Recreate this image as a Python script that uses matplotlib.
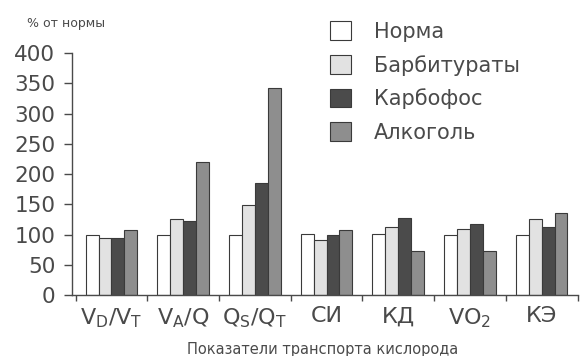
import numpy as np
import matplotlib
matplotlib.use("Agg")
import matplotlib.pyplot as plt

plt.rcParams["font.family"] = ["DejaVu Sans"]

categories = [
    r"V$_\mathregular{D}$/V$_\mathregular{T}$",
    r"V$_\mathregular{A}$/Q",
    r"Q$_\mathregular{S}$/Q$_\mathregular{T}$",
    "СИ",
    "КД",
    r"VO$_\mathregular{2}$",
    "КЭ",
]
series_names = ["Норма", "Барбитураты", "Карбофос", "Алкоголь"]
norma = [100, 100, 100, 101, 101, 100, 100]
barbiturates = [94, 125, 149, 91, 113, 109, 126]
karbofos = [95, 122, 186, 99, 127, 117, 112]
alcohol = [107, 220, 343, 108, 73, 73, 135]

colors = ["#ffffff", "#e2e2e2", "#4b4b4b", "#8e8e8e"]
text_color = "#4a4a4a"

fig = plt.figure(figsize=(5.81, 3.56), dpi=100)
ax = fig.add_axes([0.124, 0.171, 0.87, 0.68])

x = np.arange(len(categories)) + 0.5
w = 0.18
for i, (vals, c, name) in enumerate(zip([norma, barbiturates, karbofos, alcohol], colors, series_names)):
    ax.bar(x + (i - 1.5) * w, vals, width=w, color=c, edgecolor="#3a3a3a",
           linewidth=0.8, label=name)

ax.set_xlim(-0.05, 7)
ax.set_ylim(0, 400)
ax.set_yticks(range(0, 401, 50))
ax.set_xticks(x)
ax.set_xticklabels(categories)
ax.set_xticks(np.arange(0, 8), minor=True)
ax.tick_params(axis="y", labelsize=15.5, colors=text_color, length=6, width=1, pad=6)
ax.tick_params(axis="x", which="major", length=0, labelsize=16, colors=text_color, pad=8)
ax.tick_params(axis="x", which="minor", length=4, width=1, color=text_color)
for side in ["top", "right"]:
    ax.spines[side].set_visible(False)
for side in ["left", "bottom"]:
    ax.spines[side].set_color(text_color)
    ax.spines[side].set_linewidth(1.0)

fig.text(0.555, 0.018, "Показатели транспорта кислорода", fontsize=10.5,
         color=text_color, ha="center", va="center")
fig.text(0.046, 0.935, "% от нормы", fontsize=9, color=text_color, ha="left", va="center")

leg = fig.legend(loc="upper left", bbox_to_anchor=(0.568, 0.94), frameon=False,
                 fontsize=15, handlelength=1.0, handleheight=1.0, labelspacing=0.62,
                 handletextpad=1.1, borderaxespad=0, borderpad=0)
for t in leg.get_texts():
    t.set_color(text_color)

fig.savefig("out.png", dpi=100)
